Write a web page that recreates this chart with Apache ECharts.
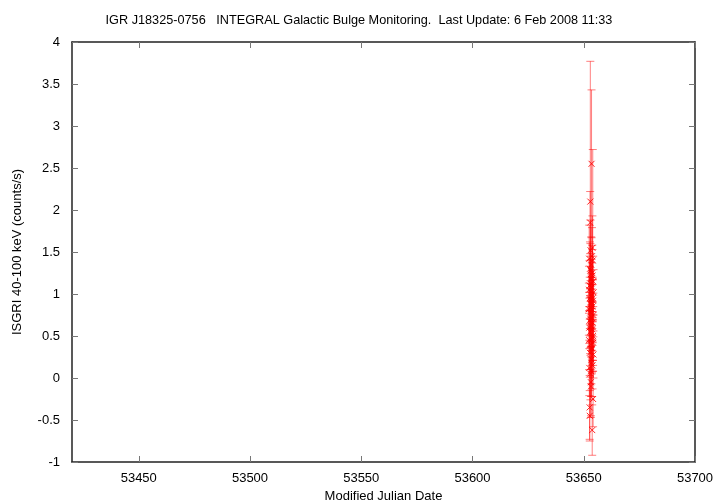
<!DOCTYPE html>
<html>
<head>
<meta charset="utf-8">
<script src="https://cdn.jsdelivr.net/npm/echarts@6/dist/echarts.min.js"></script>
<style>html,body{margin:0;padding:0;background:#fff}#c{width:720px;height:504px}</style>
</head>
<body>
<div id="c"></div>
<script>
const titleText = 'IGR J18325-0756   INTEGRAL Galactic Bulge Monitoring.  Last Update: 6 Feb 2008 11:33';
const xTicks = [53450, 53500, 53550, 53600, 53650, 53700];
const mjd = [53652.3,53652.35,53652.4,53652.45,53652.5,53652.55,53652.6,53652.65,53652.7,53652.75,
             53652.8,53652.85,53652.9,53652.95,53653.0,53653.05,53653.1,53653.15,53653.2,53653.25,
             53653.3,53653.35,53653.4,53653.45,53653.5,53653.55,53653.6,53653.65,53653.7,53653.75,
             53653.8,53653.85,53653.9,53653.95,53654.0,53654.05,53654.1,53654.15,53654.2,53654.25,
             53654.3,53654.35,53654.4,53652.5,53653.0,53653.3,53653.6,53653.9,53654.2,53652.7,
             53653.1,53653.4,53653.7,53654.0,53652.9,53653.2,53653.5,53653.8,53654.1,53653.35];
const rate = [0.82,1.05,0.45,1.42,0.12,0.68,1.10,-0.35,0.95,0.30,
              1.30,0.55,0.78,2.10,0.05,1.52,0.88,0.40,1.18,-0.10,
              0.62,1.35,0.98,0.22,2.55,0.72,1.08,0.36,1.45,0.58,
              -0.62,0.85,1.22,0.15,0.66,1.40,0.48,0.92,-0.25,1.15,
              0.75,0.28,1.02,0.60,1.28,0.08,0.82,1.55,0.42,-0.45,
              0.70,1.12,0.35,0.95,1.85,-0.05,0.18,1.25,0.50,0.90];
const err = [0.31,0.28,0.35,0.40,0.33,0.27,0.30,0.38,0.25,0.29,
             0.32,0.26,0.28,1.67,0.31,0.36,0.24,0.30,0.27,0.35,
             0.25,0.33,0.26,0.29,0.88,0.27,0.29,0.31,0.34,0.25,
             0.30,0.26,0.31,0.28,0.24,1.32,0.27,0.25,0.33,0.30,
             0.26,0.28,0.27,0.25,0.32,0.30,0.24,0.38,0.27,0.30,
             0.26,0.29,0.28,0.25,0.37,0.42,0.40,0.33,0.29,0.30];

const data = mjd.map((x, i) => [x, rate[i], err[i]]);
const font = 'Liberation Sans, Arial, Helvetica, sans-serif';
const chart = echarts.init(document.getElementById('c'), null, {renderer: 'canvas'});
const tickStyle = {show: true, inside: true, length: 6, lineStyle: {color: '#777', width: 1}};
const axisLine = {show: true, onZero: false, lineStyle: {color: '#222', width: 1.5}};
chart.setOption({
  animation: false,
  backgroundColor: '#fff',
  title: {text: titleText, left: 354, top: 9, textAlign: 'center',
    textStyle: {fontFamily: font, fontSize: 12.7, fontWeight: 'normal', color: '#000'}},
  grid: {left: 72, right: 25, top: 42, bottom: 42, containLabel: false, outerBoundsMode: 'none'},
  xAxis: [{
    type: 'value', min: 53420, max: 53700, position: 'bottom',
    name: 'Modified Julian Date', nameLocation: 'middle', nameGap: 27,
    nameTextStyle: {fontFamily: font, fontSize: 13, color: '#000'},
    axisLine: axisLine, splitLine: {show: false},
    axisTick: Object.assign({customValues: xTicks}, tickStyle),
    axisLabel: {customValues: xTicks, margin: 10, fontFamily: font, fontSize: 13, color: '#000',
      formatter: v => String(v)}
  }, {
    type: 'value', min: 53420, max: 53700, position: 'top',
    axisLine: axisLine, splitLine: {show: false},
    axisTick: Object.assign({customValues: xTicks}, tickStyle),
    axisLabel: {show: false}
  }],
  yAxis: [{
    type: 'value', min: -1, max: 4, interval: 0.5, position: 'left',
    name: 'ISGRI 40-100 keV (counts/s)', nameLocation: 'middle', nameGap: 48, nameRotate: 90,
    nameTextStyle: {fontFamily: font, fontSize: 13, color: '#000'},
    axisLine: axisLine, splitLine: {show: false},
    axisTick: tickStyle,
    axisLabel: {margin: 12, fontFamily: font, fontSize: 13, color: '#000'}
  }, {
    type: 'value', min: -1, max: 4, interval: 0.5, position: 'right',
    axisLine: axisLine, splitLine: {show: false},
    axisTick: tickStyle, axisLabel: {show: false}
  }],
  series: [{
    type: 'custom',
    xAxisIndex: 0, yAxisIndex: 0,
    data: data,
    renderItem: function (params, api) {
      const x = api.value(0), y = api.value(1), e = api.value(2);
      const p = api.coord([x, y]);
      const hi = api.coord([x, y + e]);
      const lo = api.coord([x, y - e]);
      const c = 4, s = 3;
      const eb = {stroke: 'rgba(255,0,0,0.5)', lineWidth: 1};
      const mk = {stroke: 'rgba(255,0,0,0.85)', lineWidth: 1};
      return {type: 'group', children: [
        {type: 'line', shape: {x1: p[0], y1: hi[1], x2: p[0], y2: lo[1]}, style: eb},
        {type: 'line', shape: {x1: p[0] - c, y1: hi[1], x2: p[0] + c, y2: hi[1]}, style: eb},
        {type: 'line', shape: {x1: p[0] - c, y1: lo[1], x2: p[0] + c, y2: lo[1]}, style: eb},
        {type: 'line', shape: {x1: p[0] - s, y1: p[1] - s, x2: p[0] + s, y2: p[1] + s}, style: mk},
        {type: 'line', shape: {x1: p[0] - s, y1: p[1] + s, x2: p[0] + s, y2: p[1] - s}, style: mk}
      ]};
    }
  }]
});
</script>
</body>
</html>
